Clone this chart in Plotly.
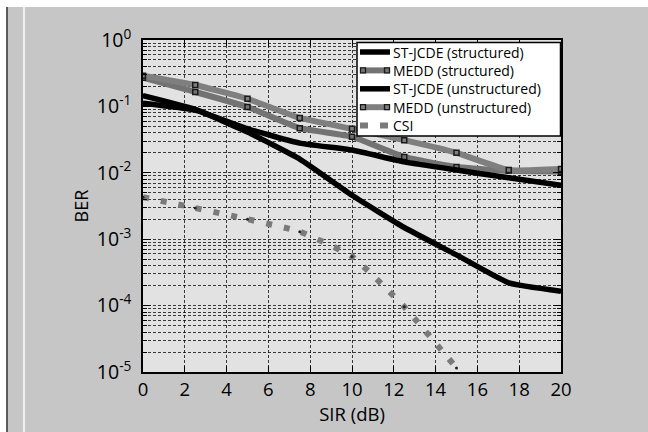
import plotly.graph_objects as go

# ---- data ----
sir_db = [0, 2.5, 5, 7.5, 10, 12.5, 15, 17.5, 20]
st_jcde_structured = [0.145, 0.090, 0.041, 0.0161, 0.0046, 0.0015, 0.00058, 0.00022, 0.000165]
medd_structured = [0.27, 0.165, 0.098, 0.047, 0.035, 0.0173, 0.0122, 0.0107, 0.0104]
st_jcde_unstructured = [0.112, 0.088, 0.046, 0.028, 0.022, 0.0146, 0.011, 0.0084, 0.0065]
medd_unstructured = [0.29, 0.21, 0.13, 0.067, 0.046, 0.031, 0.020, 0.011, 0.0114]
csi_sir_db = [0, 2.5, 5, 7.5, 10, 12.5, 15]
csi = [0.0043, 0.00295, 0.0020, 0.0013, 0.00055, 0.000096, 0.0000115]

series_names = ["ST-JCDE (structured)", "MEDD (structured)", "ST-JCDE (unstructured)",
                "MEDD (unstructured)", "CSI"]

x_ticks = list(range(0, 21, 2))
y_major = [1e0, 1e-1, 1e-2, 1e-3, 1e-4, 1e-5]
y_labels = ["10<sup>0</sup>", "10<sup>-1</sup>", "10<sup>-2</sup>",
            "10<sup>-3</sup>", "10<sup>-4</sup>", "10<sup>-5</sup>"]
y_minor = [m * 10.0 ** e for e in range(-5, 0) for m in range(2, 10)]

FONT = "Open Sans"
BLACK_W = 5.5
GRAY_W = 6
MEDD_COL = ["#737373", "#7f7f7f"]
CSI_COL = "#7a7a7a"

fig = go.Figure()
spline = dict(shape="spline", smoothing=0.4)
fig.add_trace(go.Scatter(
    x=sir_db, y=st_jcde_structured, name=series_names[0], mode="lines+markers",
    line=dict(color="black", width=BLACK_W, **spline),
    marker=dict(symbol="triangle-up", size=5, color="black")))
fig.add_trace(go.Scatter(
    x=sir_db, y=medd_structured, name=series_names[1], mode="lines+markers",
    line=dict(color=MEDD_COL[0], width=GRAY_W, **spline),
    marker=dict(symbol="square-open", size=5, color="#1a1a1a", line=dict(width=1.5))))
fig.add_trace(go.Scatter(
    x=sir_db, y=st_jcde_unstructured, name=series_names[2], mode="lines+markers",
    line=dict(color="black", width=BLACK_W, **spline),
    marker=dict(symbol="triangle-up", size=5, color="black")))
fig.add_trace(go.Scatter(
    x=sir_db, y=medd_unstructured, name=series_names[3], mode="lines+markers",
    line=dict(color=MEDD_COL[1], width=GRAY_W, **spline),
    marker=dict(symbol="square-open", size=5, color="#1a1a1a", line=dict(width=1.5))))
fig.add_trace(go.Scatter(
    x=csi_sir_db, y=csi, name=series_names[4], mode="lines+markers",
    line=dict(color=CSI_COL, width=6, dash="6px,12px", **spline),
    marker=dict(symbol="circle", size=3, color="#222222")))

grid_col = "rgba(0,0,0,0.75)"
fig.update_xaxes(
    range=[0, 20], tickvals=x_ticks, ticks="inside", ticklen=6, tickcolor="black",
    showline=True, linecolor="black", linewidth=1.5, mirror="ticks",
    showgrid=True, gridcolor=grid_col, gridwidth=1, griddash="3px,2px",
    zeroline=False, tickfont=dict(family=FONT, size=18.5, color="black"),
    title=dict(text="SIR (dB)", font=dict(family=FONT, size=18.5, color="black"), standoff=2),
)
fig.update_yaxes(
    type="log", range=[-5, 0], tickvals=y_major, ticktext=y_labels,
    ticks="inside", ticklen=8, tickcolor="black",
    showline=True, linecolor="black", linewidth=1.5, mirror="ticks",
    showgrid=True, gridcolor=grid_col, gridwidth=1, griddash="3px,2px",
    zeroline=False, tickfont=dict(family=FONT, size=19.5, color="black"),
    ticklabelstandoff=6,
    minor=dict(tickvals=y_minor, ticks="inside", ticklen=4, tickcolor="black",
               showgrid=True, gridcolor=grid_col, gridwidth=1, griddash="3px,2px"),
    title=dict(text="BER", font=dict(family=FONT, size=18, color="black"), standoff=4),
)

# ---- compact legend box (layout decoration in paper coordinates) ----
L, R, T, B = 143.0, 561.0, 40.0, 372.0
def px(xp):
    return (xp - L) / (R - L)
def py(yp):
    return (B - yp) / (B - T)

ROW0, ROW_STEP = 52.0, 18.4
row_y = [ROW0 + i * ROW_STEP for i in range(len(series_names))]
box_top, box_bottom = 42.5, row_y[-1] + 10.5

shapes = [
    dict(type="rect", xref="paper", yref="paper", x0=-0.3421, x1=1.21, y0=1.0994, y1=1.13,
         fillcolor="white", line=dict(width=0), layer="below"),
    dict(type="rect", xref="paper", yref="paper", x0=-0.3421, x1=-0.3266, y0=-0.19, y1=1.13,
         fillcolor="white", line=dict(width=0), layer="below"),
    dict(type="line", xref="paper", yref="paper", x0=-0.3254, x1=-0.3254, y0=-0.19, y1=1.0994,
         line=dict(color="#333333", width=1.5), layer="below"),
    dict(type="line", xref="paper", yref="paper", x0=-0.2847, x1=-0.2847, y0=-0.19, y1=1.0994,
         line=dict(color="white", width=1.5), layer="below"),
    dict(type="rect", xref="paper", yref="paper", x0=px(357), x1=px(560.5),
         y0=py(box_bottom), y1=py(box_top),
         fillcolor="white", line=dict(color="black", width=1.5), layer="above"),
]
annotations = []
sx0, sx1 = 360, 390
sample_style = [
    dict(color="black", width=BLACK_W),
    dict(color=MEDD_COL[0], width=GRAY_W),
    dict(color="black", width=BLACK_W),
    dict(color=MEDD_COL[1], width=GRAY_W),
    dict(color=CSI_COL, width=6, dash="8px,12px"),
]
for i, (name, yy) in enumerate(zip(series_names, row_y)):
    shapes.append(dict(type="line", xref="paper", yref="paper", x0=px(sx0), x1=px(sx1),
                       y0=py(yy), y1=py(yy), line=sample_style[i], layer="above"))
    if i in (1, 3):
        for cx in (sx0 + 3, sx1 - 3):
            shapes.append(dict(type="rect", xref="paper", yref="paper",
                               x0=px(cx - 2.5), x1=px(cx + 2.5), y0=py(yy + 2.5), y1=py(yy - 2.5),
                               fillcolor="rgba(0,0,0,0)", line=dict(color="#1a1a1a", width=1.3),
                               layer="above"))
    annotations.append(dict(text=name, xref="paper", yref="paper", x=px(392), y=py(yy),
                            xanchor="left", yanchor="middle", showarrow=False, borderpad=0,
                            font=dict(family=FONT, size=14, color="black")))

fig.update_layout(
    width=648, height=432,
    margin=dict(l=143, r=87, t=40, b=60),
    paper_bgcolor="#c6c6c6", plot_bgcolor="#e2e2e2",
    font=dict(family=FONT, color="black"),
    showlegend=False,
    shapes=shapes,
    annotations=annotations,
)

fig.write_html("out.html")
